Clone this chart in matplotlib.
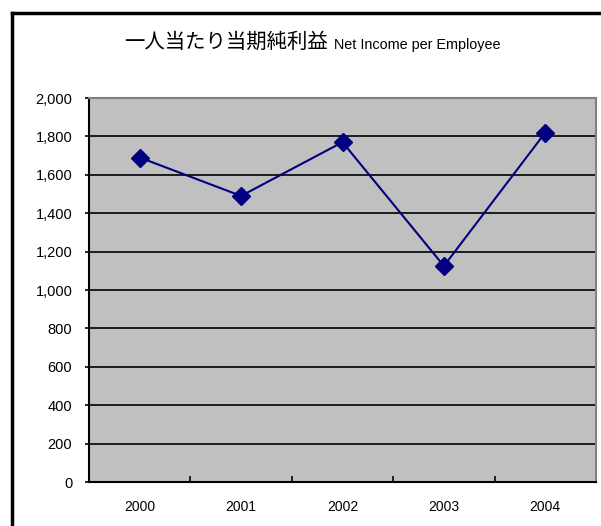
import matplotlib
matplotlib.use("Agg")
import matplotlib.pyplot as plt
from matplotlib.lines import Line2D

# data
years = ["2000", "2001", "2002", "2003", "2004"]
net_income = [1690, 1490, 1770, 1125, 1820]
y_ticks = [0, 200, 400, 600, 800, 1000, 1200, 1400, 1600, 1800, 2000]

plt.rcParams["font.family"] = ["Liberation Sans", "Noto Sans CJK JP"]

fig = plt.figure(figsize=(6.01, 5.26), dpi=100)
ax = fig.add_axes([89 / 601, 1 - 482 / 526, 507 / 601, 384 / 526])
ax.set_facecolor("#c0c0c0")

x = list(range(len(years)))
ax.plot(x, net_income, color="#000080", lw=1.5, marker="D", ms=9.5,
        markerfacecolor="#000080", markeredgecolor="#000080", zorder=3)

ax.set_xlim(-0.5, len(years) - 0.5)
ax.set_ylim(0, 2000)
ax.set_yticks(y_ticks)
ax.set_yticklabels([f"{v:,}" for v in y_ticks], fontsize=10.5)
for v in y_ticks[1:-1]:
    ax.axhline(v, color="black", lw=1.2, zorder=1)

ax.set_xticks([i + 0.5 for i in x[:-1]])
ax.set_xticklabels([])
ax.set_xticks(x, minor=True)
ax.set_xticklabels(years, minor=True, fontsize=10)
ax.tick_params(axis="x", which="major", direction="in", length=4.5, width=1.2)
ax.tick_params(axis="x", which="minor", length=0, pad=13)
ax.tick_params(axis="y", direction="out", length=3, width=1.2, pad=9)

ax.spines["left"].set_linewidth(1.5)
ax.spines["bottom"].set_linewidth(1.5)
for s in ["top", "right"]:
    ax.spines[s].set_color("#808080")
    ax.spines[s].set_linewidth(1.5)

# title in two parts
t1 = fig.text(124 / 601, 1 - 48 / 526, "一人当たり当期純利益", fontsize=14.7,
              family=["Noto Sans CJK JP"], va="baseline")
fig.canvas.draw()
bb = t1.get_window_extent()
fig.text(bb.x1 / 601 + 6 / 601, 1 - 49 / 526, "Net Income per Employee",
         fontsize=10.4, va="baseline")

# chart border (cut off at right and bottom)
fig.add_artist(Line2D([12 / 601, 12 / 601], [1 - 13 / 526, 0], color="black",
                      lw=2.5, transform=fig.transFigure))
fig.add_artist(Line2D([12 / 601, 1], [1 - 13 / 526, 1 - 13 / 526], color="black",
                      lw=2.5, transform=fig.transFigure))

fig.savefig("out.png", dpi=100)
